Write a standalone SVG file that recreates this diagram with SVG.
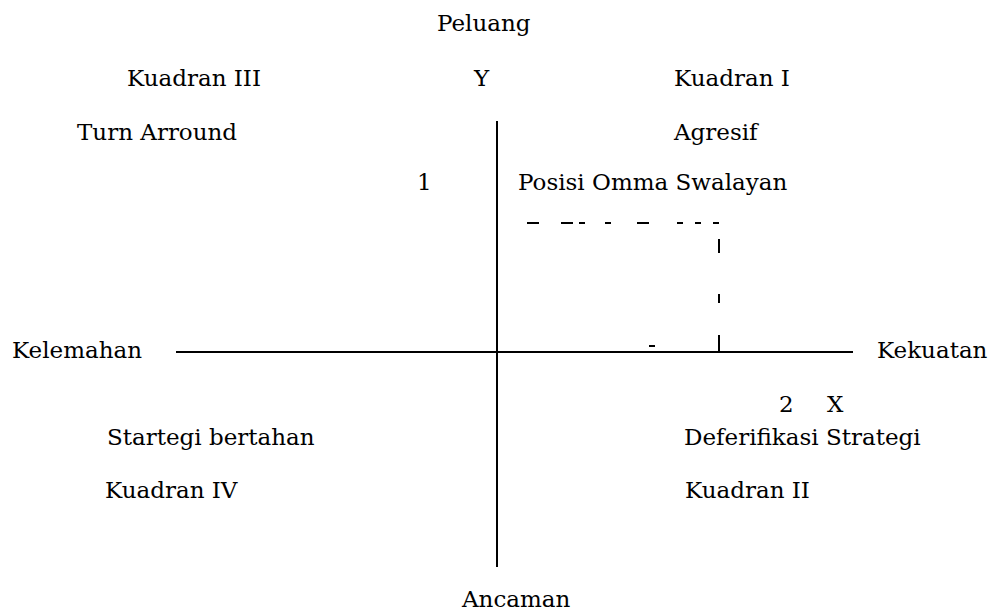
<svg xmlns="http://www.w3.org/2000/svg" width="992" height="612" viewBox="0 0 992 612">
<style>
text { font-family: "DejaVu Serif", "Liberation Serif", serif; font-size: 23px; fill: #000; }
.axis { stroke: #000; stroke-width: 2; fill: none; }
.dash { stroke: #000; stroke-width: 2; fill: none; }
</style>
<rect width="992" height="612" fill="#fff"/>
<g id="connectors">
<line class="axis" x1="176" y1="352" x2="853" y2="352"/>
<line class="axis" x1="497" y1="121" x2="497" y2="567"/>
<g id="dashes">
<line class="dash" x1="527" y1="223" x2="539" y2="223"/>
<line class="dash" x1="561" y1="223" x2="573" y2="223"/>
<line class="dash" x1="579" y1="223" x2="585" y2="223"/>
<line class="dash" x1="605" y1="223" x2="611" y2="223"/>
<line class="dash" x1="637" y1="223" x2="649" y2="223"/>
<line class="dash" x1="677" y1="223" x2="683" y2="223"/>
<line class="dash" x1="695" y1="223" x2="701" y2="223"/>
<line class="dash" x1="713" y1="223" x2="719" y2="223"/>
<line class="dash" x1="719" y1="239" x2="719" y2="253"/>
<line class="dash" x1="719" y1="294" x2="719" y2="303"/>
<line class="dash" x1="719" y1="335" x2="719" y2="351"/>
<line class="dash" x1="649" y1="346" x2="655" y2="346"/>
</g>
</g>
<g id="peluang"><text x="437" y="31">Peluang</text></g>
<g id="ancaman"><text x="462" y="607">Ancaman</text></g>
<g id="kelemahan"><text x="12" y="358">Kelemahan</text></g>
<g id="kekuatan"><text x="877" y="358">Kekuatan</text></g>
<g id="label-y"><text x="474" y="86">Y</text></g>
<g id="label-x"><text x="827" y="412">X</text></g>
<g id="label-1"><text x="417" y="190">1</text></g>
<g id="label-2"><text x="779" y="412">2</text></g>
<g id="kuadran3"><text x="127" y="86">Kuadran III</text><text x="77" y="140">Turn Arround</text></g>
<g id="kuadran1"><text x="674" y="86">Kuadran I</text><text x="674" y="140">Agresif</text><text x="518" y="190">Posisi Omma Swalayan</text></g>
<g id="kuadran4"><text x="107" y="445">Startegi bertahan</text><text x="105" y="498">Kuadran IV</text></g>
<g id="kuadran2"><text x="684" y="445">Deferifikasi Strategi</text><text x="685" y="498">Kuadran II</text></g>
</svg>
